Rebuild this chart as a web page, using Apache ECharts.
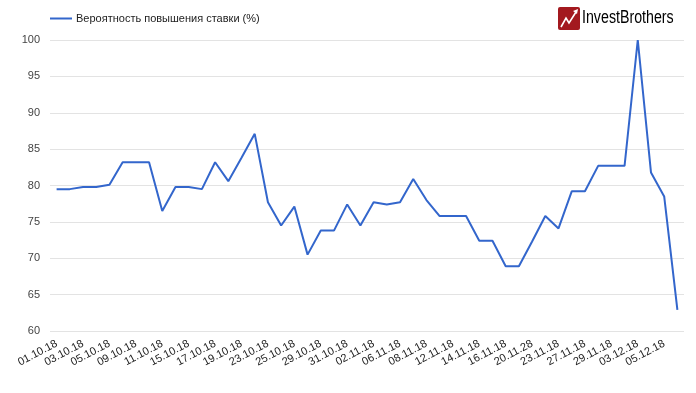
<!DOCTYPE html>
<html>
<head>
<meta charset="utf-8">
<script src="https://cdn.jsdelivr.net/npm/echarts@6/dist/echarts.min.js"></script>
<style>
html,body{margin:0;padding:0;background:#fff;}
#chart{width:696px;height:393px;}
</style>
</head>
<body>
<div id="chart"></div>
<script>
const categories = ['01.10.18','02.10.18','03.10.18','04.10.18','05.10.18','08.10.18','09.10.18','10.10.18','11.10.18','12.10.18',
  '15.10.18','16.10.18','17.10.18','18.10.18','19.10.18','22.10.18','23.10.18','24.10.18','25.10.18','26.10.18',
  '29.10.18','30.10.18','31.10.18','01.11.18','02.11.18','05.11.18','06.11.18','07.11.18','08.11.18','09.11.18',
  '12.11.18','13.11.18','14.11.18','15.11.18','16.11.18','19.11.18','20.11.28','21.11.18','23.11.18','26.11.18',
  '27.11.18','28.11.18','29.11.18','30.11.18','03.12.18','04.12.18','05.12.18','06.12.18'];
const seriesName = 'Вероятность повышения ставки (%)';
const values = [79.5,79.5,79.8,79.8,80.1,83.2,83.2,83.2,76.5,79.8,
  79.8,79.5,83.2,80.6,83.8,87.1,77.7,74.5,77.1,70.5,
  73.8,73.8,77.4,74.5,77.7,77.4,77.7,80.9,78.0,75.8,
  75.8,75.8,72.4,72.4,68.9,68.9,72.3,75.8,74.1,79.2,
  79.2,82.7,82.7,82.7,100,81.8,78.5,62.9];
const yTicks = {min: 60, max: 100, interval: 5};

const chart = echarts.init(document.getElementById('chart'));
chart.setOption({
  animation: false,
  backgroundColor: '#fff',
  textStyle: {fontFamily: 'Liberation Sans, Arial, sans-serif'},
  grid: {left: 50, right: 12, top: 40, bottom: 62},
  legend: {
    left: 45, top: 8,
    icon: 'rect', itemWidth: 22, itemHeight: 2, itemGap: 6,
    textStyle: {color: '#222', fontSize: 11, padding: [0, 0, 0, -1], fontFamily: 'Liberation Sans, Arial, sans-serif'},
    data: [seriesName]
  },
  xAxis: {
    type: 'category',
    data: categories,
    boundaryGap: true,
    axisLine: {show: false},
    axisTick: {show: false},
    axisLabel: {interval: 1, rotate: 28, margin: 12, color: '#222', fontSize: 11,
      fontFamily: 'Liberation Sans, Arial, sans-serif'}
  },
  yAxis: {
    type: 'value',
    min: yTicks.min, max: yTicks.max, interval: yTicks.interval,
    axisLine: {show: false},
    axisTick: {show: false},
    axisLabel: {color: '#444', fontSize: 11, margin: 10, fontFamily: 'Liberation Sans, Arial, sans-serif'},
    splitLine: {lineStyle: {color: '#e3e3e3', width: 1}}
  },
  series: [{
    name: seriesName,
    type: 'line',
    data: values,
    showSymbol: false,
    symbol: 'none',
    lineStyle: {color: '#3366cc', width: 2},
    itemStyle: {color: '#3366cc'}
  }],
  graphic: [
    {type: 'rect', shape: {x: 558, y: 7, width: 22, height: 23, r: 2}, style: {fill: '#a3191f'}},
    {type: 'polyline', shape: {points: [[561,27],[566,18],[569,23],[576,12]]},
      style: {stroke: '#fff', lineWidth: 1.6, fill: null}},
    {type: 'polygon', shape: {points: [[578,9],[573,11],[577,14]]}, style: {fill: '#fff'}},
    {type: 'text', x: 582, y: 9, scaleX: 0.79, style: {
      x: 0, y: 0,
      text: '{a|Invest}{b|Brothers}',
      rich: {
        a: {fontSize: 18, color: '#3a3a3a', fontFamily: 'Liberation Sans, sans-serif'},
        b: {fontSize: 18, color: '#a81c22', fontFamily: 'Liberation Sans, sans-serif'}
      }
    }}
  ]
});
</script>
</body>
</html>
